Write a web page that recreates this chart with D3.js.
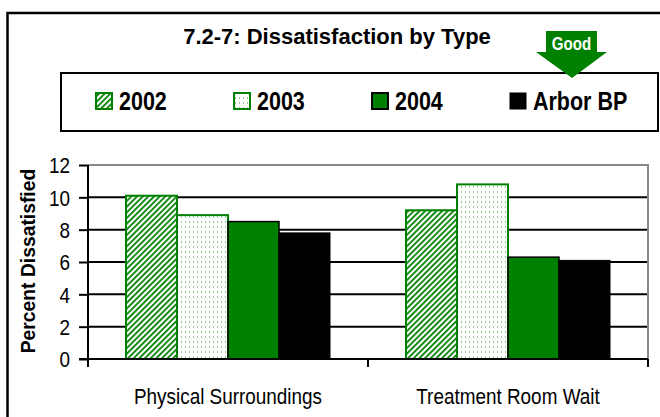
<!DOCTYPE html>
<html>
<head>
<meta charset="utf-8">
<script src="https://cdn.jsdelivr.net/npm/d3@7"></script>
<style>
  body { margin: 0; background: #fff; }
  text { font-family: "Liberation Sans", Arial, sans-serif; }
</style>
</head>
<body>
<div id="chart"></div>
<script>
var categories = ["Physical Surroundings", "Treatment Room Wait"];
var series = ["2002", "2003", "2004", "Arbor BP"];
var values2002 = [10.1, 9.2];
var values2003 = [8.9, 10.8];
var values2004 = [8.5, 6.3];
var valuesArbor = [7.8, 6.1];
var yTicks = [0, 2, 4, 6, 8, 10, 12];

var seriesValues = [values2002, values2003, values2004, valuesArbor];

var W = 660, H = 417;
var margin = { top: 165, right: 12, bottom: 58, left: 88 };
var width = W - margin.left - margin.right,
    height = H - margin.top - margin.bottom;
var narrow = 0.86; // no Arial Narrow here, squeeze Liberation Sans

var svg = d3.select("#chart")
    .append("svg")
    .attr("width", W)
    .attr("height", H);

// patterns
var defs = svg.append("defs");
var hatch = defs.append("pattern")
    .attr("id", "hatch")
    .attr("patternUnits", "userSpaceOnUse")
    .attr("width", 4)
    .attr("height", 4)
    .attr("patternTransform", "rotate(45)");
hatch.append("rect").attr("width", 4).attr("height", 4).attr("fill", "#fff");
hatch.append("rect").attr("width", 1.8).attr("height", 4).attr("fill", "#008000");

var dots = defs.append("pattern")
    .attr("id", "dots")
    .attr("patternUnits", "userSpaceOnUse")
    .attr("width", 4)
    .attr("height", 5);
dots.append("rect").attr("width", 4).attr("height", 5).attr("fill", "#fff");
dots.append("rect").attr("x", 1).attr("y", 1).attr("width", 1).attr("height", 2).attr("fill", "#8fcc8f");

var fills = { "2002": "url(#hatch)", "2003": "url(#dots)", "2004": "#008000", "Arbor BP": "#000" };
var strokes = { "2002": "#008000", "2003": "#008000", "2004": "#000", "Arbor BP": "#000" };
var strokeW = { "2002": 2, "2003": 2, "2004": 1.5, "Arbor BP": 1 };

// outer frame
svg.append("rect")
    .attr("x", 7.5).attr("y", 13)
    .attr("width", 680).attr("height", 440)
    .attr("fill", "none")
    .attr("stroke", "#000")
    .attr("stroke-width", 2.5);

// title
svg.append("text")
    .attr("x", 337)
    .attr("y", 44)
    .attr("text-anchor", "middle")
    .style("font-size", "22px")
    .style("font-weight", "bold")
    .text("7.2-7: Dissatisfaction by Type");

// legend box
svg.append("rect")
    .attr("x", 61).attr("y", 73)
    .attr("width", 597).attr("height", 58)
    .attr("fill", "#fff")
    .attr("stroke", "#000")
    .attr("stroke-width", 2);

var legend = svg.selectAll(".legend")
    .data(series)
    .enter()
    .append("g")
    .attr("class", "legend")
    .attr("transform", function (d, i) {
        return "translate(" + (96 + i * 138) + ",101)";
    });
legend.append("rect")
    .attr("x", 0).attr("y", -8)
    .attr("width", 16).attr("height", 16)
    .attr("fill", function (d) { return fills[d]; })
    .attr("stroke", function (d) { return strokes[d]; })
    .attr("stroke-width", function (d) { return d == "Arbor BP" ? 1 : 2; });
legend.append("text")
    .attr("transform", "translate(23,9) scale(" + narrow + ",1)")
    .style("font-size", "25px")
    .style("font-weight", "bold")
    .text(function (d) { return d; });

// good arrow
svg.append("path")
    .attr("d", "M546,31 L597,31 L597,52 L607,52 L572,78 L536,52 L546,52 Z")
    .attr("fill", "#008000");
svg.append("text")
    .attr("transform", "translate(571.5,50) scale(0.84,1)")
    .attr("text-anchor", "middle")
    .attr("fill", "#fff")
    .style("font-size", "18px")
    .style("font-weight", "bold")
    .text("Good");

var g = svg.append("g")
    .attr("transform", "translate(" + margin.left + "," + margin.top + ")");

var x0 = d3.scaleBand()
    .domain(categories)
    .range([0, width]);
var x1 = d3.scaleBand()
    .domain(series)
    .range([0, x0.bandwidth()])
    .paddingOuter(0.745);
var y = d3.scaleLinear()
    .domain([0, 12])
    .range([height, 0]);

// gridlines
g.selectAll(".grid")
    .data(yTicks.filter(function (d) { return d > 0 && d < 12; }))
    .enter()
    .append("line")
    .attr("x1", 0).attr("x2", width)
    .attr("y1", function (d) { return y(d); })
    .attr("y2", function (d) { return y(d); })
    .attr("stroke", "#000")
    .attr("stroke-width", 2);

// plot border top/right
g.append("path")
    .attr("d", "M0," + y(12) + "H" + width + "V" + height)
    .attr("fill", "none")
    .attr("stroke", "#888")
    .attr("stroke-width", 2);

// bars
var rows = categories.map(function (c, i) {
    return series.map(function (s, j) {
        return { cat: c, key: s, value: seriesValues[j][i] };
    });
});
g.selectAll(".cat")
    .data(rows)
    .enter()
    .append("g")
    .attr("transform", function (d, i) { return "translate(" + x0(categories[i]) + ",0)"; })
    .selectAll("rect")
    .data(function (d) { return d; })
    .enter()
    .append("rect")
    .attr("x", function (d) { return x1(d.key); })
    .attr("y", function (d) { return y(d.value); })
    .attr("width", x1.bandwidth())
    .attr("height", function (d) { return height - y(d.value); })
    .attr("fill", function (d) { return fills[d.key]; })
    .attr("stroke", function (d) { return strokes[d.key]; })
    .attr("stroke-width", function (d) { return strokeW[d.key]; });

// y axis
var yAxis = g.append("g")
    .call(d3.axisLeft(y).tickValues(yTicks).tickSize(9));
yAxis.select(".domain").remove();
yAxis.selectAll(".tick line").attr("stroke", "#000").attr("stroke-width", 2);
yAxis.selectAll(".tick text")
    .style("font-size", "22px")
    .attr("fill", "#000")
    .attr("x", -18 / narrow)
    .attr("dy", "0.36em")
    .attr("transform", "scale(" + narrow + ",1)");
g.append("line")
    .attr("x1", 0).attr("x2", 0)
    .attr("y1", y(12)).attr("y2", height + 8)
    .attr("stroke", "#000").attr("stroke-width", 2);

// x axis
var xAxis = g.append("g")
    .attr("transform", "translate(0," + height + ")")
    .call(d3.axisBottom(x0).tickSize(0).tickPadding(29));
xAxis.select(".domain").remove();
xAxis.selectAll(".tick text")
    .style("font-size", "22px")
    .attr("fill", "#000")
    .attr("transform", "scale(" + narrow + ",1)");
g.append("line")
    .attr("x1", -9).attr("x2", width)
    .attr("y1", height).attr("y2", height)
    .attr("stroke", "#000").attr("stroke-width", 2);
g.selectAll(".xtick")
    .data([1, 2])
    .enter()
    .append("line")
    .attr("x1", function (d) { return x0.step() * d; })
    .attr("x2", function (d) { return x0.step() * d; })
    .attr("y1", height).attr("y2", height + 8)
    .attr("stroke", "#000").attr("stroke-width", 2);

// y title
svg.append("text")
    .attr("transform", "translate(35,261) rotate(-90) scale(0.92,1)")
    .attr("text-anchor", "middle")
    .style("font-size", "21px")
    .style("font-weight", "bold")
    .text("Percent Dissatisfied");
</script>
</body>
</html>
